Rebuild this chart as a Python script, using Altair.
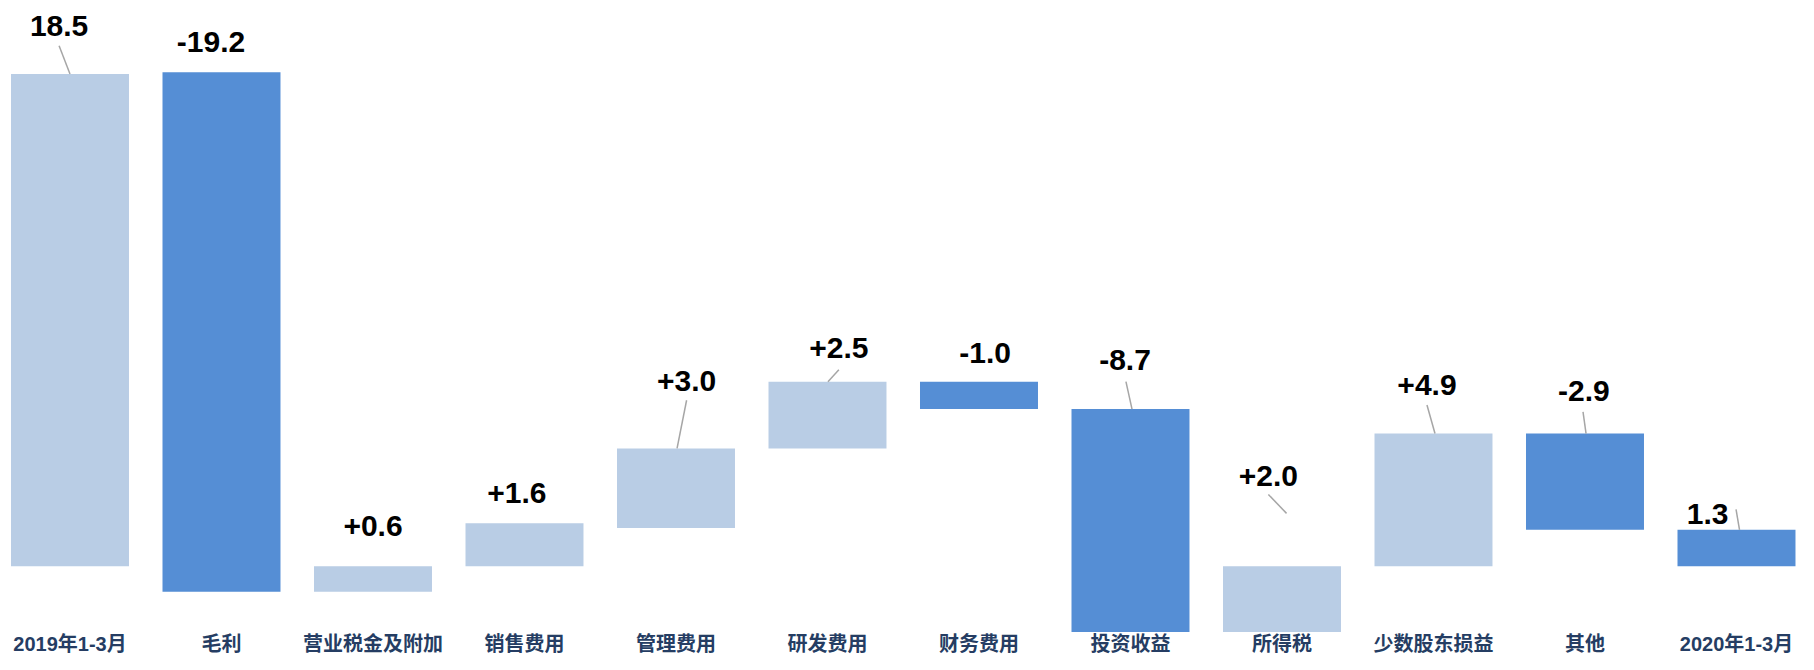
import altair as alt
import pandas as pd

# ---- data ----
categories = ["2019年1-3月", "毛利", "营业税金及附加", "销售费用", "管理费用", "研发费用",
              "财务费用", "投资收益", "所得税", "少数股东损益", "其他", "2020年1-3月"]
value_labels = ["18.5", "-19.2", "+0.6", "+1.6", "+3.0", "+2.5",
                "-1.0", "-8.7", "+2.0", "+4.9", "-2.9", "1.3"]
bar_low = [0, -0.96, -0.96, 0, 1.44, 4.43, 5.91, -2.47, -2.47, 0, 1.37, 0]
bar_high = [18.5, 18.57, 0, 1.62, 4.43, 6.94, 6.94, 5.91, 0, 4.99, 4.99, 1.37]
bar_kind = ["light", "dark", "light", "light", "light", "light",
            "dark", "dark", "light", "light", "dark", "dark"]

# ---- annotation placement (layout) ----
label_x = [-0.072, 0.931, 2.0, 2.95, 4.07, 5.075, 6.04, 6.964, 7.91, 8.957, 9.993, 10.81]
label_y = [20.26, 19.65, 1.48, 2.70, 6.94, 8.16, 7.98, 7.72, 3.36, 6.79, 6.54, 1.92]
leader_from_x = [-0.072, 4.07, 5.075, 6.97, 7.91, 8.957, 9.987, 10.997]
leader_from_y = [19.56, 6.24, 7.39, 6.94, 2.70, 6.06, 5.80, 2.14]
leader_to_x = [0.0, 4.007, 5.003, 7.01, 8.03, 9.01, 10.007, 11.02]
leader_to_y = [18.5, 4.43, 6.94, 5.91, 1.99, 4.99, 4.99, 1.37]

HALF = 0.3894
bars = pd.DataFrame({
    "cat": categories,
    "x0": [i - HALF for i in range(len(categories))],
    "x1": [i + HALF for i in range(len(categories))],
    "lo": bar_low,
    "hi": bar_high,
    "kind": bar_kind,
})
labels_df = pd.DataFrame({"x": label_x, "y": label_y, "t": value_labels})
cats_df = pd.DataFrame({"x": list(range(len(categories))), "t": categories})
leaders_df = pd.DataFrame({"x": leader_from_x, "y": leader_from_y,
                           "x2": leader_to_x, "y2": leader_to_y})

xs = alt.Scale(domain=[-0.4092, 11.406], nice=False, zero=False)
ys = alt.Scale(domain=[-3.37, 20.98], nice=False, zero=False)

bar_layer = alt.Chart(bars).mark_bar().encode(
    x=alt.X("x0:Q", scale=xs, axis=None),
    x2="x1:Q",
    y=alt.Y("lo:Q", scale=ys, axis=None),
    y2="hi:Q",
    color=alt.Color("kind:N", scale=alt.Scale(domain=["light", "dark"],
                                              range=["#B9CDE5", "#558ED5"]), legend=None),
)

leader_layer = alt.Chart(leaders_df).mark_rule(color="#A6A6A6", strokeWidth=1.5).encode(
    x=alt.X("x:Q", scale=xs, axis=None),
    y=alt.Y("y:Q", scale=ys, axis=None),
    x2="x2:Q",
    y2="y2:Q",
)

value_layer = alt.Chart(labels_df).mark_text(
    font="Liberation Sans", fontSize=30, fontWeight="bold", color="#000000",
    align="center", baseline="middle",
).encode(
    x=alt.X("x:Q", scale=xs, axis=None),
    y=alt.Y("y:Q", scale=ys, axis=None),
    text="t:N",
)

cat_layer = alt.Chart(cats_df).mark_text(
    font="Liberation Sans, Noto Sans CJK SC", fontSize=20, fontWeight="bold",
    color="#253D63", align="center", baseline="middle",
).encode(
    x=alt.X("x:Q", scale=xs, axis=None),
    y=alt.value(637),
    text="t:N",
)

chart = alt.layer(bar_layer, leader_layer, value_layer, cat_layer).properties(
    width=1790, height=648,
    autosize=alt.AutoSizeParams(type="none"),
    padding=0,
    background="white",
).configure_view(stroke=None)

chart.save("out.html", embed_options={"renderer": "svg", "actions": False})
